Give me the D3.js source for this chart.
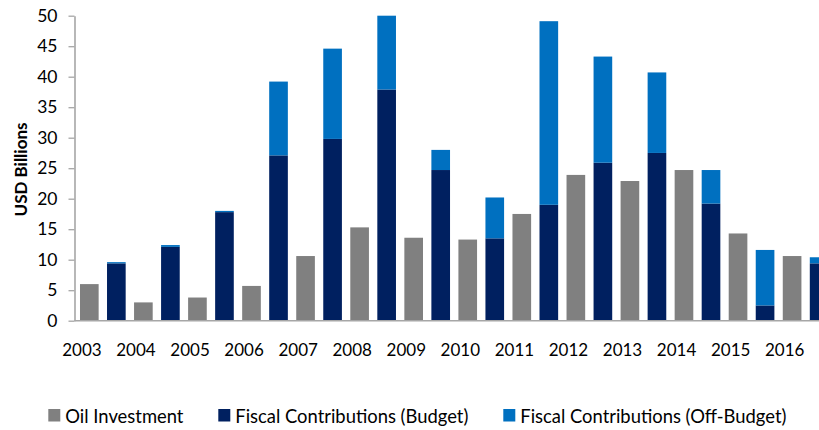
<!DOCTYPE html>
<html>
<head>
<meta charset="utf-8">
<script src="https://cdn.jsdelivr.net/npm/d3@7"></script>
<style>
  html, body { margin: 0; padding: 0; background: #fff; overflow: hidden; }
  svg { display: block; font-family: Lato, "Open Sans", sans-serif; }
</style>
</head>
<body>
<svg id="chart" width="819" height="430"></svg>
<script>
// ---- data ----
const years = ["2003","2004","2005","2006","2007","2008","2009","2010","2011","2012","2013","2014","2015","2016"];
const oilInvestment = [6.0, 3.0, 3.8, 5.7, 10.6, 15.3, 13.6, 13.3, 17.5, 23.9, 22.9, 24.7, 14.3, 10.6];
const fiscalBudget = [9.4, 12.1, 17.8, 27.1, 29.8, 37.9, 24.7, 13.5, 19.0, 25.9, 27.5, 19.2, 2.5, 9.4];
const fiscalOffBudget = [0.2, 0.3, 0.2, 12.1, 14.8, 12.1, 3.3, 6.7, 30.1, 17.4, 13.2, 5.5, 9.1, 1.0];
const yTicks = [0, 5, 10, 15, 20, 25, 30, 35, 40, 45, 50];
const seriesNames = ["Oil Investment", "Fiscal Contributions (Budget)", "Fiscal Contributions (Off-Budget)"];
const colors = ["#808080", "#002060", "#0070C0"];

// ---- layout ----
const svg = d3.select("#chart");
const axisX = 74.5, baseY = 320.7, topY = 15.7;
const step = 27.03;

const slots = [];
years.forEach(y => { slots.push(y + "-oil"); slots.push(y + "-fiscal"); });

const x = d3.scaleBand()
  .domain(slots)
  .range([75.8, 75.8 + step * slots.length])
  .paddingInner(0.31)
  .paddingOuter(0.155);

const y = d3.scaleLinear().domain([0, 50]).range([baseY, topY]);

// bars: oil
svg.append("g").selectAll("rect.oil")
  .data(years.map((yr, i) => ({ yr, v: oilInvestment[i] })))
  .join("rect")
  .attr("x", d => x(d.yr + "-oil"))
  .attr("width", x.bandwidth())
  .attr("y", d => y(d.v))
  .attr("height", d => y(0) - y(d.v))
  .attr("fill", colors[0]);

// stacked fiscal
const stackData = years.map((yr, i) => ({ yr, budget: fiscalBudget[i], off: fiscalOffBudget[i] }));
const stacked = d3.stack().keys(["budget", "off"])(stackData);
svg.append("g").selectAll("g")
  .data(stacked)
  .join("g")
  .attr("fill", (d, i) => colors[i + 1])
  .selectAll("rect")
  .data(d => d)
  .join("rect")
  .attr("x", d => x(d.data.yr + "-fiscal"))
  .attr("width", x.bandwidth())
  .attr("y", d => y(d[1]))
  .attr("height", d => y(d[0]) - y(d[1]));

// y axis
const yAxis = svg.append("g")
  .attr("transform", `translate(${axisX},0)`)
  .call(d3.axisLeft(y).tickValues(yTicks).tickSize(6).tickPadding(11).tickSizeOuter(0));
yAxis.select(".domain").attr("stroke", "#a6a6a6").attr("stroke-width", 1.6);
yAxis.selectAll(".tick line").attr("stroke", "#a6a6a6").attr("stroke-width", 1.3);
yAxis.selectAll(".tick text").attr("font-size", "17.5px").attr("fill", "#000").attr("font-family", "Lato");

// x axis
const xAxis = svg.append("g")
  .attr("transform", `translate(0,${baseY})`)
  .call(d3.axisBottom(x)
    .tickValues(years.map(yr => yr + "-oil"))
    .tickFormat(d => d.split("-")[0])
    .tickSize(0).tickPadding(23));
xAxis.select(".domain").attr("stroke", "#a6a6a6").attr("stroke-width", 1.6)
  .attr("d", `M${axisX},0H830`);
xAxis.selectAll(".tick text").attr("font-size", "17px").attr("fill", "#000")
  .attr("font-family", "Lato").attr("dx", -7.4);

// y title
svg.append("text")
  .attr("transform", "translate(27,169.5) rotate(-90)")
  .attr("text-anchor", "middle")
  .attr("font-size", "17px")
  .attr("font-weight", "bold")
  .attr("font-family", "Lato")
  .attr("fill", "#000")
  .text("USD Billions");

// legend
const legendPos = [48.3, 218.3, 503.3];
const legend = svg.append("g");
seriesNames.forEach((name, i) => {
  legend.append("rect")
    .attr("x", legendPos[i]).attr("y", 409)
    .attr("width", 12).attr("height", 12.5)
    .attr("fill", colors[i]);
  legend.append("text")
    .attr("x", legendPos[i] + 17).attr("y", 423.3)
    .attr("font-size", "18.4px")
    .attr("font-family", "Lato")
    .attr("fill", "#000")
    .text(name);
});
</script>
</body>
</html>
